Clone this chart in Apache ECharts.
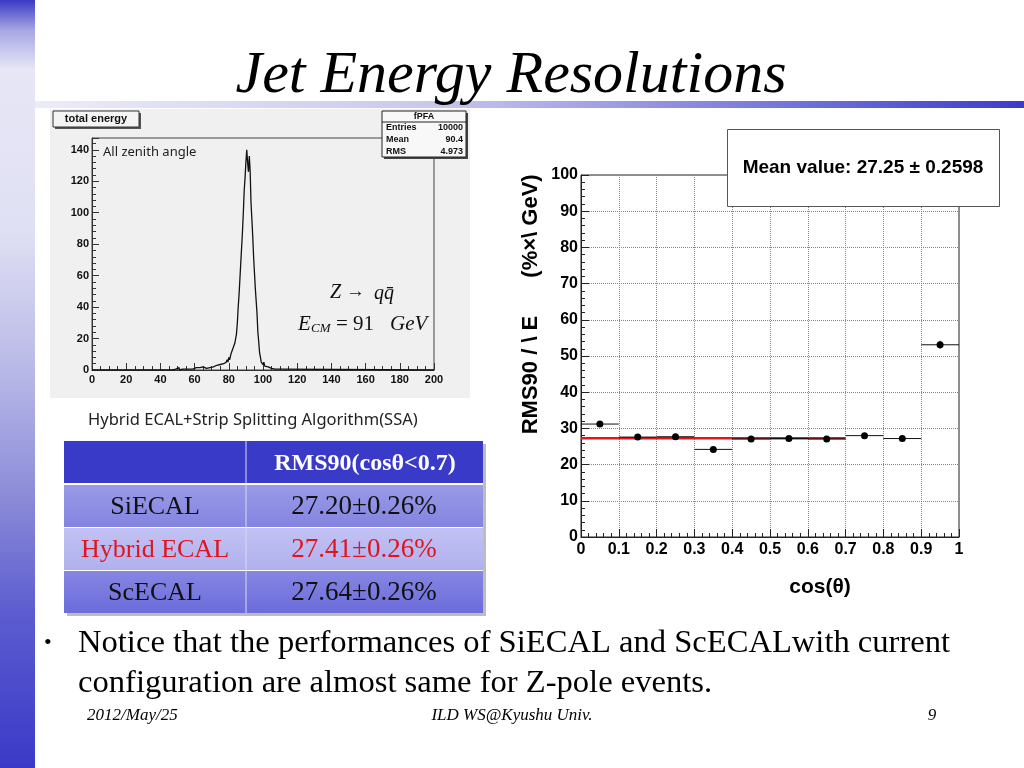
<!DOCTYPE html>
<html>
<head>
<meta charset="utf-8">
<script src="https://cdn.jsdelivr.net/npm/echarts@6/dist/echarts.min.js"></script>
<style>html,body{margin:0;padding:0;background:#fff;}#c{width:1024px;height:768px;}</style>
</head>
<body>
<div id="c"></div>
<script>
// ---------- DATA ----------
// Left panel: total energy histogram (bin left edge in GeV, entries per bin)
const histEdges = [0,45,46,47,48,49,50,51,52,53,54,55,56,57,58,59,60,61,62,63,64,65,66,67,68,69,70,71,72,73,74,75,76,77,78,
  78.5,79,79.5,80,80.5,81,81.5,82,82.5,83,83.5,84,84.5,85,85.5,86,86.5,87,87.5,88,88.5,89,89.5,90,90.5,91,91.5,92,92.5,93,93.5,94,94.5,95,95.5,96,96.5,97,97.5,98,98.5,99,99.5,100,100.5,101,101.5,
  102,103,104,105,106,107,108,109,110,111,200];
const histCounts = [0,0,0,0,0.5,1,1.5,0,0.5,0,0.5,0,0.5,1,0.5,1,1.5,1,1.5,1,2,1.5,1,2,1.5,2.5,2,1.5,3,2,3.5,2.5,4,3.5,5,
  4,6.5,5,8,6.5,9,11,10,14,13,17,20,23,30,40,48,58,68,78,88,100,114,122,132,140,132,126,136,126,106,96,85,72,62,52,44,36,24,18,11,8,5,4,3.5,5,2.5,3,
  2,1.5,1,1.5,0.5,1,0.5,0,0.5,0,0];
const histXTicks = [0,20,40,60,80,100,120,140,160,180,200];
const histYTicks = [0,20,40,60,80,100,120,140];
const statEntries = "10000", statMean = "90.4", statRMS = "4.973";

// Right panel: RMS90/sqrt(E) vs cos(theta)
const cosCenters = [0.05,0.15,0.25,0.35,0.45,0.55,0.65,0.75,0.85,0.95];
const cosHalfWidth = [0.05,0.05,0.05,0.05,0.05,0.05,0.05,0.05,0.05,0.05];
const rmsValues = [31.2,27.6,27.7,24.2,27.1,27.2,27.1,28.0,27.2,53.1];
const rmsErrors = [0.7,0.6,0.6,0.6,0.6,0.6,0.6,0.6,0.6,1.1];
const fitRange = [0, 0.7];
const fitMean = 27.25, fitErr = 0.2598;

// Table
const tableRows = ["SiECAL","Hybrid ECAL","ScECAL"];
const tableValues = ["27.20±0.26%","27.41±0.26%","27.64±0.26%"];

// ---------- CHART ----------
const chart = echarts.init(document.getElementById('c'), null, {renderer:'canvas'});
const SANS = "'Liberation Sans', Arial, sans-serif";
const NSANS = "'Noto Sans', 'Liberation Sans', sans-serif";
const SERIF = "'Liberation Serif', 'Times New Roman', serif";

function txt(text, x, y, font, fill, align, extra) {
  return Object.assign({
    type:'text', z: 20,
    style:{text:text, x:x, y:y, font:font, fill:fill||'#000',
      align:align||'left', textAlign:align||'left', verticalAlign:'middle', textVerticalAlign:'middle'}
  }, extra||{});
}

const g = [];
// slide decorations
g.push({type:'rect', z:-10, shape:{x:0,y:0,width:35,height:768},
  style:{fill:new echarts.graphic.LinearGradient(0,0,0,1,[
    {offset:0,color:'#3a3ac6'},{offset:0.04,color:'#a8a8e4'},{offset:0.09,color:'#e6e6f6'},
    {offset:0.3,color:'#e0e0f4'},{offset:0.5,color:'#b4b4e6'},{offset:0.65,color:'#8a8ad8'},
    {offset:0.8,color:'#5c5cd0'},{offset:1,color:'#3a3ac8'}])}});
g.push({type:'rect', z:-10, shape:{x:35,y:101,width:989,height:7},
  style:{fill:new echarts.graphic.LinearGradient(0,0,1,0,[
    {offset:0,color:'#ececf8'},{offset:0.4,color:'#c8c8ee'},{offset:1,color:'#3c3ccc'}])}});
g.push(txt('Jet Energy Resolutions', 511, 76, 'italic 60px '+SERIF, '#000', 'center'));

// ROOT canvas for histogram
g.push({type:'rect', z:-5, shape:{x:50,y:109,width:420,height:289}, style:{fill:'#f0f0f0'}});
// total energy title box
g.push({type:'rect', z:15, shape:{x:55,y:113,width:86,height:16}, style:{fill:'#555'}});
g.push({type:'rect', z:16, shape:{x:53,y:111,width:86,height:16}, style:{fill:'#f4f4f4', stroke:'#333', lineWidth:1}});
g.push(txt('total energy', 96, 119, 'bold 11px '+SANS, '#111', 'center'));
// stat box
g.push({type:'rect', z:15, shape:{x:384,y:113,width:84,height:46}, style:{fill:'#444'}});
g.push({type:'rect', z:16, shape:{x:382,y:111,width:84,height:46}, style:{fill:'#f8f8f8', stroke:'#222', lineWidth:1}});
g.push({type:'line', z:17, shape:{x1:382,y1:122,x2:466,y2:122}, style:{stroke:'#222', lineWidth:1}});
g.push(txt('fPFA', 424, 116.5, 'bold 9px '+SANS, '#111', 'center'));
g.push(txt('Entries', 386, 128, 'bold 9px '+SANS, '#111', 'left'));
g.push(txt(statEntries, 463, 128, 'bold 9px '+SANS, '#111', 'right'));
g.push(txt('Mean', 386, 140, 'bold 9px '+SANS, '#111', 'left'));
g.push(txt(statMean, 463, 140, 'bold 9px '+SANS, '#111', 'right'));
g.push(txt('RMS', 386, 152, 'bold 9px '+SANS, '#111', 'left'));
g.push(txt(statRMS, 463, 152, 'bold 9px '+SANS, '#111', 'right'));
g.push(txt('All zenith angle', 103, 152, '13px '+NSANS, '#222', 'left'));
// math annotations
g.push(txt('Z', 330, 293, 'italic 20px '+SERIF, '#111', 'left'));
g.push(txt('→', 346, 292, '19px '+SERIF, '#111', 'left'));
g.push(txt('q', 374, 294, 'italic 20px '+SERIF, '#111', 'left'));
g.push(txt('q\u0304', 384, 294, 'italic 20px '+SERIF, '#111', 'left'));
g.push(txt('E', 298, 324, 'italic 21px '+SERIF, '#111', 'left'));
g.push(txt('CM', 311, 329, 'italic 13px '+SERIF, '#111', 'left'));
g.push(txt('= 91', 336, 324, '21px '+SERIF, '#111', 'left'));
g.push(txt('GeV', 390, 324, 'italic 21px '+SERIF, '#111', 'left'));
g.push(txt('Hybrid ECAL+Strip Splitting Algorithm(SSA)', 88, 420, '16.5px '+NSANS, '#222', 'left'));

// Table
g.push({type:'rect', z:-2, shape:{x:67,y:444,width:419,height:172}, style:{fill:'#bdbdbd'}});
g.push({type:'rect', z:-1, shape:{x:64,y:441,width:419,height:172}, style:{fill:'#ffffff'}});
g.push({type:'rect', z:0, shape:{x:64,y:441,width:419,height:42}, style:{fill:'#3a3ac8'}});
g.push({type:'rect', z:0, shape:{x:64,y:485,width:419,height:42},
  style:{fill:new echarts.graphic.LinearGradient(0,0,0,1,[{offset:0,color:'#9a9ae8'},{offset:1,color:'#8484e0'}])}});
g.push({type:'rect', z:0, shape:{x:64,y:528,width:419,height:42},
  style:{fill:new echarts.graphic.LinearGradient(0,0,0,1,[{offset:0,color:'#c2c2f4'},{offset:1,color:'#b0b0ee'}])}});
g.push({type:'rect', z:0, shape:{x:64,y:571,width:419,height:42},
  style:{fill:new echarts.graphic.LinearGradient(0,0,0,1,[{offset:0,color:'#8686e2'},{offset:1,color:'#6c6cdc'}])}});
g.push({type:'line', z:1, shape:{x1:246,y1:441,x2:246,y2:613}, style:{stroke:'#d8d8f4', lineWidth:1}});
g.push(txt('RMS90(cosθ<0.7)', 365, 464, 'bold 24px '+SERIF, '#ffffff', 'center'));
const rowY = [507, 550, 593];
tableRows.forEach((r,i)=>{
  const col = (i===1) ? '#e0141e' : '#111';
  g.push(txt(r, 155, rowY[i], '26px '+SERIF, col, 'center'));
  g.push(txt(tableValues[i], 364, rowY[i], '27px '+SERIF, col, 'center'));
});

// Right plot annotations
g.push({type:'rect', z:15, shape:{x:727.5,y:129.5,width:272,height:77}, style:{fill:'#ffffff', stroke:'#555', lineWidth:1}});
g.push(txt('Mean value: ' + fitMean.toFixed(2) + ' ± ' + fitErr, 863, 168, 'bold 19px '+SANS, '#000', 'center'));
g.push(txt('RMS90 / \\ E', 0, 0, 'bold 22px '+SANS, '#000', 'center', {x:531, y:375, rotation:Math.PI/2}));
g.push(txt('(%×\\ GeV)', 0, 0, 'bold 22px '+SANS, '#000', 'center', {x:531, y:226, rotation:Math.PI/2}));
g.push(txt('cos(θ)', 820, 587, 'bold 21px '+SANS, '#000', 'center'));

// Bullet text and footer
g.push(txt('•', 44, 643, '22px '+SERIF, '#000', 'left'));
g.push(txt('Notice that the performances of SiECAL and ScECALwith current', 78, 643, '32.6px '+SERIF, '#000', 'left'));
g.push(txt('configuration are almost same for Z-pole events.', 78, 683, '32.6px '+SERIF, '#000', 'left'));
g.push(txt('2012/May/25', 87, 716, 'italic 17px '+SERIF, '#000', 'left'));
g.push(txt('ILD WS@Kyushu Univ.', 512, 716, 'italic 17px '+SERIF, '#000', 'center'));
g.push(txt('9', 932, 716, 'italic 17px '+SERIF, '#000', 'center'));

const histData = histEdges.map((e,i)=>[e, histCounts[i]]);
const errData = cosCenters.map((c,i)=>[c, rmsValues[i], cosHalfWidth[i], rmsErrors[i]]);

const option = {
  animation:false,
  backgroundColor:'#ffffff',
  graphic:{elements:g},
  grid:[
    {left:92, top:138, width:342, height:232, show:true, backgroundColor:'#f0f0f0', borderColor:'#444', borderWidth:1},
    {left:581, top:175, width:378, height:362, show:true, backgroundColor:'#ffffff', borderColor:'#222', borderWidth:1}
  ],
  xAxis:[
    {gridIndex:0, type:'value', min:histXTicks[0], max:histXTicks[histXTicks.length-1], interval:histXTicks[1]-histXTicks[0],
     axisLine:{show:true, onZero:false, lineStyle:{color:'#333'}},
     axisTick:{inside:true, length:7, lineStyle:{color:'#333'}},
     minorTick:{show:true, splitNumber:4, length:4, lineStyle:{color:'#333'}},
     splitLine:{show:false},
     axisLabel:{margin:4, fontWeight:'bold', fontSize:11, fontFamily:SANS, color:'#111'}},
    {gridIndex:1, type:'value', min:0, max:1, interval:0.1,
     axisLine:{show:true, onZero:false, lineStyle:{color:'#222'}},
     axisTick:{inside:true, length:8, lineStyle:{color:'#222'}},
     minorTick:{show:true, splitNumber:5, length:4, lineStyle:{color:'#222'}},
     splitLine:{show:true, lineStyle:{color:'#888', type:'dotted', width:1}},
     axisLabel:{margin:5, fontWeight:'bold', fontSize:16, fontFamily:SANS, color:'#000',
       formatter:function(v){return String(Math.round(v*10)/10);}}}
  ],
  yAxis:[
    {gridIndex:0, type:'value', min:histYTicks[0], max:147.5, interval:histYTicks[1]-histYTicks[0],
     axisLine:{show:true, onZero:false, lineStyle:{color:'#333'}},
     axisTick:{inside:true, length:7, lineStyle:{color:'#333'}},
     minorTick:{show:true, splitNumber:5, length:4, lineStyle:{color:'#333'}},
     splitLine:{show:false},
     axisLabel:{margin:3, fontWeight:'bold', fontSize:11, fontFamily:SANS, color:'#111', showMaxLabel:false,
       formatter:function(v){return (v%20===0)?String(v):'';}}},
    {gridIndex:1, type:'value', min:0, max:100, interval:10,
     axisLine:{show:true, onZero:false, lineStyle:{color:'#222'}},
     axisTick:{inside:true, length:8, lineStyle:{color:'#222'}},
     minorTick:{show:true, splitNumber:5, length:4, lineStyle:{color:'#222'}},
     splitLine:{show:true, lineStyle:{color:'#888', type:'dotted', width:1}},
     axisLabel:{margin:3, fontWeight:'bold', fontSize:16, fontFamily:SANS, color:'#000'}}
  ],
  series:[
    {type:'line', xAxisIndex:0, yAxisIndex:0, data:histData, step:'end', showSymbol:false, symbol:'none',
     lineStyle:{color:'#111', width:1.3}, silent:true, z:3},
    {type:'line', xAxisIndex:1, yAxisIndex:1, data:[[fitRange[0], fitMean],[fitRange[1], fitMean]],
     showSymbol:false, symbol:'none', lineStyle:{color:'#e8141c', width:2.5}, z:3},
    {type:'custom', xAxisIndex:1, yAxisIndex:1, data:errData, z:4,
     renderItem:function(params, api){
       const x=api.value(0), y=api.value(1), ex=api.value(2), ey=api.value(3);
       const c=api.coord([x,y]), l=api.coord([x-ex,y]), r=api.coord([x+ex,y]);
       const t=api.coord([x,y+ey]), b=api.coord([x,y-ey]);
       return {type:'group', children:[
         {type:'line', shape:{x1:l[0],y1:l[1],x2:r[0],y2:r[1]}, style:{stroke:'#111', lineWidth:1}},
         {type:'line', shape:{x1:t[0],y1:t[1],x2:b[0],y2:b[1]}, style:{stroke:'#111', lineWidth:1}},
         {type:'circle', shape:{cx:c[0],cy:c[1],r:3.5}, style:{fill:'#000'}}
       ]};
     }}
  ]
};
chart.setOption(option);
</script>
</body>
</html>
